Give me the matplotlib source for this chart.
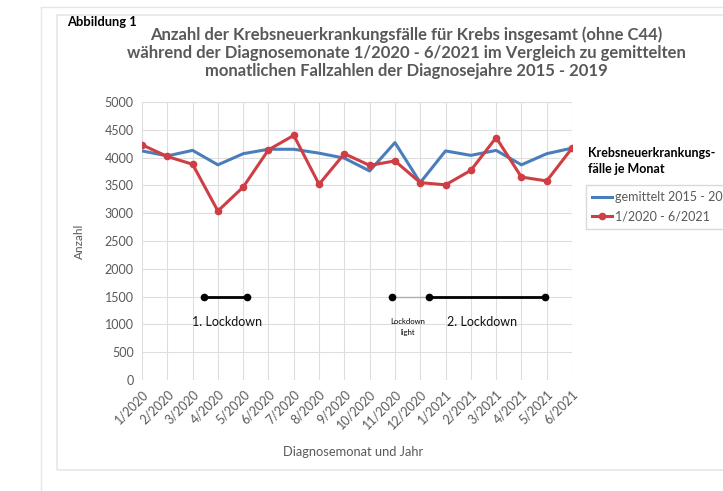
import matplotlib
matplotlib.use("Agg")
import matplotlib.pyplot as plt
from matplotlib.patches import Rectangle
from matplotlib.lines import Line2D

months = ["1/2020", "2/2020", "3/2020", "4/2020", "5/2020", "6/2020", "7/2020", "8/2020",
          "9/2020", "10/2020", "11/2020", "12/2020", "1/2021", "2/2021", "3/2021", "4/2021",
          "5/2021", "6/2021"]
avg_2015_2019 = [4120, 4030, 4130, 3870, 4070, 4150, 4150, 4080, 3990, 3760, 4270, 3550,
                 4120, 4040, 4130, 3870, 4070, 4170]
cases_2020_2021 = [4230, 4020, 3880, 3040, 3470, 4140, 4400, 3520, 4070, 3860, 3940, 3550,
                   3510, 3770, 4360, 3650, 3580, 4170]
yticks = [0, 500, 1000, 1500, 2000, 2500, 3000, 3500, 4000, 4500, 5000]

# lockdown periods (month index positions)
lockdown1 = (2.45, 4.17)
lockdown_light = (9.88, 11.33)
lockdown2 = (11.33, 15.95)
lockdown_level = 1500

plt.rcParams['font.family'] = ['Lato', 'DejaVu Sans']
GRAY = "#595959"

fig = plt.figure(figsize=(7.23, 4.91), dpi=100)
W, H = 723, 491

def fx(x):
    return x / W

def fy(y):
    return 1 - y / H

# frames
fig.add_artist(Line2D([fx(41), fx(41)], [fy(7), 0], color="#e6e6e6", lw=1))
fig.add_artist(Line2D([fx(41), 1], [fy(7), fy(7)], color="#e6e6e6", lw=1))
fig.add_artist(Rectangle((fx(57), fy(470)), 1.0, fy(15) - fy(470), fill=False,
                         edgecolor="#e6e6e6", lw=1.2))

ax = fig.add_axes([fx(142), fy(380), fx(572) - fx(142), fy(102) - fy(380)])
x = list(range(len(months)))

ax.plot(x, avg_2015_2019, color="#4a7ebb", lw=2.2, label="gemittelt 2015 - 2019", zorder=3)
ax.plot(x, cases_2020_2021, color="#cf3d45", lw=2.2, marker="o", markersize=4.5,
        label="1/2020 - 6/2021", zorder=4)

ax.plot(lockdown1, [lockdown_level] * 2, color="black", lw=2, marker="o", markersize=4.5)
ax.plot(lockdown_light, [lockdown_level] * 2, color="#b0b0b0", lw=1)
ax.plot([lockdown_light[0]], [lockdown_level], color="black", marker="o", markersize=4.5)
ax.plot(lockdown2, [lockdown_level] * 2, color="black", lw=2, marker="o", markersize=4.5)

ax.text(3.35, 1050, "1. Lockdown", ha="center", va="center", fontsize=9, color="#111111")
ax.text(10.5, 950, "Lockdown\nlight", ha="center", va="center", fontsize=5.5,
        color="black", linespacing=1.6)
ax.text(13.45, 1050, "2. Lockdown", ha="center", va="center", fontsize=9, color="#111111")

ax.set_xlim(0, len(months) - 1)
ax.set_ylim(0, 5000)
ax.set_yticks(yticks)
ax.set_yticklabels([str(v) for v in yticks], fontsize=9, color=GRAY)
ax.set_xticks(x)
ax.set_xticklabels(months, rotation=45, ha="right", rotation_mode="anchor",
                   fontsize=9, color=GRAY)
ax.tick_params(length=0, pad=6)
ax.grid(True, color="#dedede", lw=0.8)
ax.set_axisbelow(True)
for s in ax.spines.values():
    s.set_visible(False)

ax.set_ylabel("Anzahl", fontsize=8.5, color=GRAY, labelpad=14)
fig.text(fx(353), fy(452), "Diagnosemonat und Jahr", ha="center", va="center",
         fontsize=9.3, color=GRAY)

fig.text(fx(67), fy(22), "Abbildung 1", ha="left", va="center", fontsize=9.3,
         fontweight="bold", color="black")
fig.text(fx(406), fy(53),
         "Anzahl der Krebsneuerkrankungsfälle für Krebs insgesamt (ohne C44)\n"
         "während der Diagnosemonate 1/2020 - 6/2021 im Vergleich zu gemittelten\n"
         "monatlichen Fallzahlen der Diagnosejahre 2015 - 2019",
         ha="center", va="center", fontsize=12, fontweight="bold", color=GRAY,
         linespacing=1.15)

fig.text(fx(588), fy(161), "Krebsneuerkrankungs-\nfälle je Monat", ha="left",
         va="center", fontsize=9, fontweight="bold", color="black", linespacing=1.4)
leg = fig.legend(loc="upper left", bbox_to_anchor=(fx(586), fy(185)), fontsize=9,
                 frameon=True, fancybox=False, edgecolor="#d0d0d0", handlelength=1.6,
                 handletextpad=0.2, borderpad=0.5, labelspacing=0.6, borderaxespad=0)
for t in leg.get_texts():
    t.set_color(GRAY)

fig.savefig("out.png", dpi=100)
